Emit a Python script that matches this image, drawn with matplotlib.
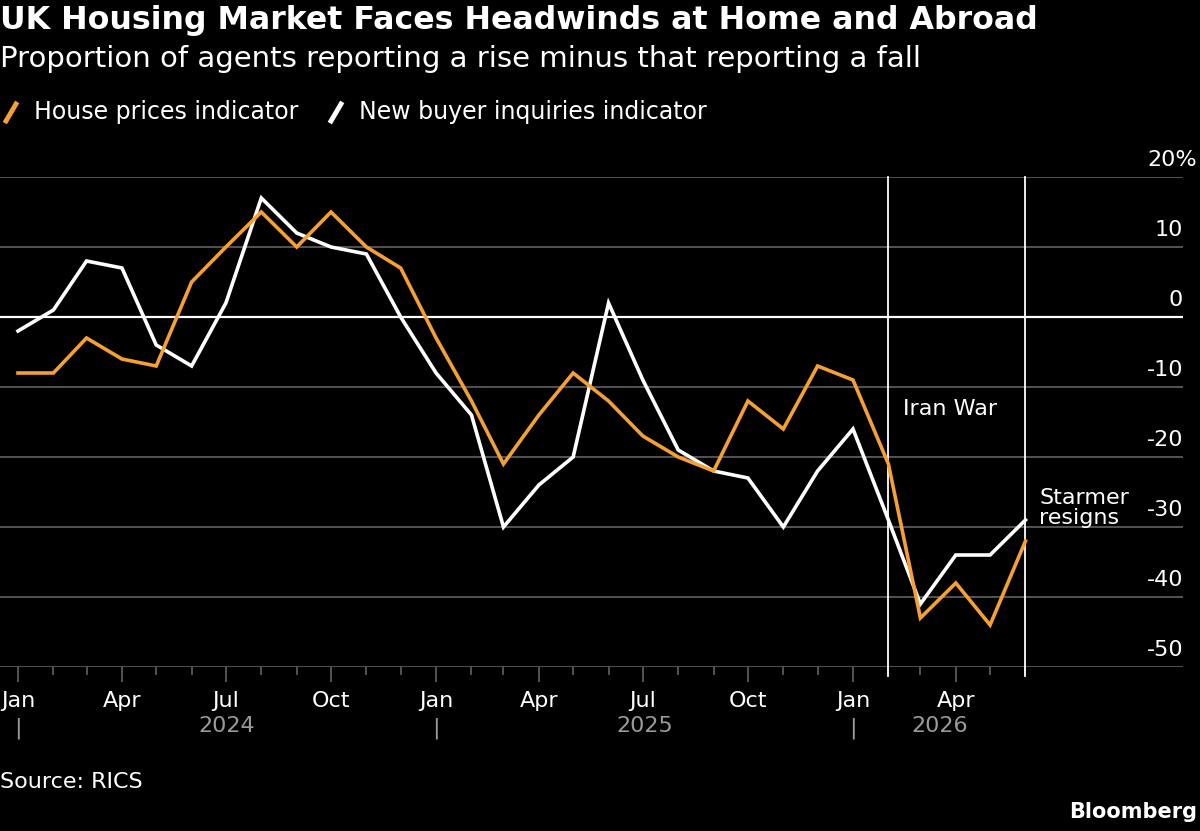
import matplotlib
matplotlib.use("Agg")
import matplotlib.pyplot as plt
import matplotlib.dates as mdates
import matplotlib.transforms as mtrans
from matplotlib.lines import Line2D
from matplotlib.ticker import FixedLocator
import pandas as pd

months = pd.date_range("2024-01-01", "2026-06-01", freq="MS")
house_prices = [-8, -8, -3, -6, -7, 5, 10, 15, 10, 15, 10, 7,
                -3, -12, -21, -14, -8, -12, -17, -20, -22, -12, -16, -7,
                -9, -21, -43, -38, -44, -32]
new_inquiries = [-2, 1, 8, 7, -4, -7, 2, 17, 12, 10, 9, 0,
                 -8, -14, -30, -24, -20, 2, -9, -19, -22, -23, -30, -22,
                 -16, -29, -41, -34, -34, -29]
y_ticks = [20, 10, 0, -10, -20, -30, -40, -50]
events = [("2026-02-01", "Iran War"), ("2026-06-01", "Starmer\nresigns")]

ORANGE = "#f5a033"
GRID = "#5a5a5a"
plt.rcParams["font.family"] = "DejaVu Sans"

W, H = 1200, 831
fig = plt.figure(figsize=(W / 100, H / 100), dpi=100, facecolor="black")
ax_left, ax_right, ax_top, ax_bot = 0, 1183, 177, 667
ax = fig.add_axes([ax_left / W, 1 - ax_bot / H, (ax_right - ax_left) / W, (ax_bot - ax_top) / H])
ax.set_facecolor("black")

t0 = pd.Timestamp("2024-01-01")
px_per_day = 835 / 731
ax.set_xlim(t0 - pd.Timedelta(days=18 / px_per_day), t0 + pd.Timedelta(days=(1183 - 18) / px_per_day))
ax.set_ylim(-50, 20)

for v in y_ticks:
    ax.axhline(v, color="white" if v == 0 else GRID, lw=1.6 if v == 0 else 1.3, zorder=1)
    if v == y_ticks[0]:
        # top label carries the unit and pokes out past the grid
        ax.annotate(f"{v}%", xy=(1, v), xycoords=("axes fraction", "data"), xytext=(10, 8),
                    textcoords="offset points", ha="right", va="baseline", color="white", fontsize=16)
    else:
        ax.annotate(f"{v}", xy=(1, v), xycoords=("axes fraction", "data"), xytext=(0, 8),
                    textcoords="offset points", ha="right", va="baseline", color="white", fontsize=16)

ax.plot(months, new_inquiries, color="white", lw=2.6, zorder=3, solid_joinstyle="miter")
ax.plot(months, house_prices, color=ORANGE, lw=2.6, zorder=4, solid_joinstyle="miter")

# event lines and labels
for d, txt in events:
    ax.axvline(pd.Timestamp(d), ymin=-0.018, ymax=1, color="white", lw=1.3, clip_on=False, zorder=2)
ax.text(pd.Timestamp(events[0][0]) + pd.Timedelta(days=13), -13.2, events[0][1],
        color="white", fontsize=16, ha="left", va="center")
ax.text(pd.Timestamp(events[1][0]) + pd.Timedelta(days=12), -27.3, events[1][1],
        color="white", fontsize=16, ha="left", va="center", linespacing=0.95)

# x axis
for s in ax.spines.values():
    s.set_visible(False)
ax.yaxis.set_visible(False)
major = [d for d in months if d.month in (1, 4, 7, 10)]
ax.xaxis.set_major_locator(FixedLocator(mdates.date2num(major)))
ax.xaxis.set_major_formatter(mdates.DateFormatter("%b"))
ax.xaxis.set_minor_locator(FixedLocator(mdates.date2num(months)))
ax.tick_params(axis="x", which="major", length=11, width=1.3, color=GRID,
               labelcolor="white", labelsize=16, pad=6)
ax.tick_params(axis="x", which="minor", length=6, width=1.3, color=GRID)

trans = mtrans.blended_transform_factory(ax.transData, fig.transFigure)
for yr in [2024, 2025, 2026]:
    ax.text(pd.Timestamp(f"{yr}-01-01"), 1 - 728 / H, "|", transform=trans, color="#9a9a9a",
            fontsize=16, ha="center", va="center")
year_spans = [(2024, "2024-01-01", "2025-01-01"), (2025, "2025-01-01", "2026-01-01"),
              (2026, "2026-01-01", "2026-06-01")]
for yr, a, b in year_spans:
    c = pd.Timestamp(a) + (pd.Timestamp(b) - pd.Timestamp(a)) / 2
    ax.text(c, 1 - 726 / H, str(yr), transform=trans, color="#9a9a9a",
            fontsize=16, ha="center", va="center")

# titles and legend
fig.text(0, 1 - 21 / H, "UK Housing Market Faces Headwinds at Home and Abroad",
         color="white", fontsize=22.8, fontweight="bold", ha="left", va="center")
fig.text(0, 1 - 59 / H, "Proportion of agents reporting a rise minus that reporting a fall",
         color="white", fontsize=21, ha="left", va="center")
for x0, col, lab in [(4, ORANGE, "House prices indicator"), (329, "white", "New buyer inquiries indicator")]:
    fig.add_artist(Line2D([(x0 + 2) / W, (x0 + 12) / W], [1 - 121 / H, 1 - 104 / H],
                          color=col, lw=3.5, transform=fig.transFigure))
    fig.text((x0 + 30) / W, 1 - 112 / H, lab, color="white", fontsize=17, ha="left", va="center")

fig.text(0, 1 - 782 / H, "Source: RICS", color="white", fontsize=16, ha="left", va="center")
fig.text(1197 / W, 1 - 812 / H, "Bloomberg", color="white", fontsize=15, fontweight="bold",
         ha="right", va="center")

fig.savefig("out.png", dpi=100, facecolor="black")
